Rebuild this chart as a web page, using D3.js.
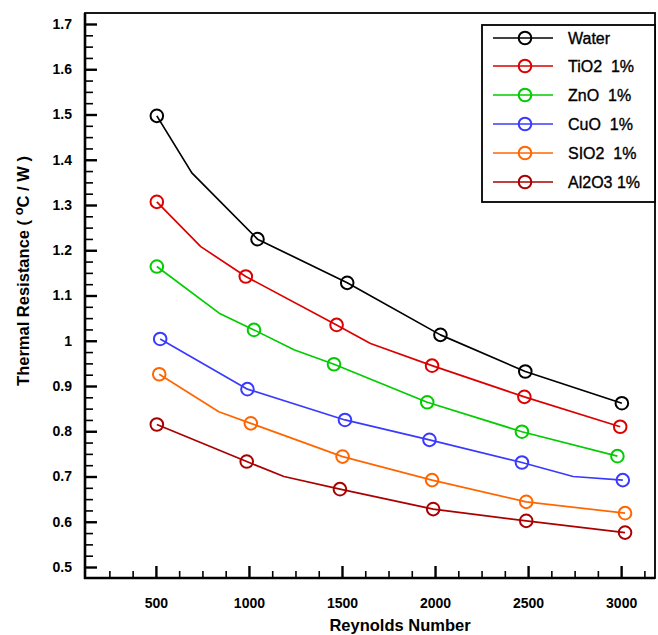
<!DOCTYPE html>
<html><head><meta charset="utf-8">
<script src="https://cdn.jsdelivr.net/npm/d3@7/dist/d3.min.js"></script>
<style>body{margin:0;background:#fff}svg{display:block}</style>
</head><body>
<svg id="c" width="658" height="635"></svg>
<script>
// ---- data ----
const seriesNames = ["Water", "TiO2  1%", "ZnO  1%", "CuO  1%", "SIO2  1%", "Al2O3 1%"];
const seriesColors = ["#000000", "#dd0000", "#00cc00", "#3a3aff", "#ff6600", "#aa0000"];

const waterRe = [505, 1046, 1528, 2029, 2485, 3004];
const waterR  = [1.497, 1.2245, 1.128, 1.013, 0.932, 0.862];
const waterBendRe = [693];
const waterBendR  = [1.371];

const tio2Re = [505, 983, 1471, 1984, 2480, 2995];
const tio2R  = [1.307, 1.142, 1.035, 0.945, 0.876, 0.810];
const tio2BendRe = [741, 1653];
const tio2BendR  = [1.208, 0.994];

const znoRe = [505, 1027, 1457, 1958, 2467, 2980];
const znoR  = [1.164, 1.024, 0.948, 0.864, 0.799, 0.745];
const znoBendRe = [840, 1242];
const znoBendR  = [1.061, 0.980];

const cuoRe = [523, 992, 1516, 1970, 2467, 3009];
const cuoR  = [1.004, 0.893, 0.825, 0.781, 0.731, 0.692];
const cuoBendRe = [2742];
const cuoBendR  = [0.700];

const sio2Re = [518, 1010, 1503, 1984, 2490, 3021];
const sio2R  = [0.926, 0.8175, 0.744, 0.692, 0.644, 0.619];
const sio2BendRe = [838];
const sio2BendR  = [0.843];

const al2o3Re = [505, 988, 1489, 1990, 2490, 3021];
const al2o3R  = [0.815, 0.733, 0.672, 0.628, 0.602, 0.576];
const al2o3BendRe = [1188];
const al2o3BendR  = [0.700];

const xTickValues = [500, 1000, 1500, 2000, 2500, 3000];
const xTickLabels = ["500", "1000", "1500", "2000", "2500", "3000"];
const yTickValues = [0.5, 0.6, 0.7, 0.8, 0.9, 1.0, 1.1, 1.2, 1.3, 1.4, 1.5, 1.6, 1.7];
const yTickLabels = ["0.5", "0.6", "0.7", "0.8", "0.9", "1", "1.1", "1.2", "1.3", "1.4", "1.5", "1.6", "1.7"];
const xMinorStep = 125;
const yMinorStep = 0.025;

const xTitle = "Reynolds Number";

// ---- build ----
const markRe = [waterRe, tio2Re, znoRe, cuoRe, sio2Re, al2o3Re];
const markR = [waterR, tio2R, znoR, cuoR, sio2R, al2o3R];
const bendRe = [waterBendRe, tio2BendRe, znoBendRe, cuoBendRe, sio2BendRe, al2o3BendRe];
const bendR = [waterBendR, tio2BendR, znoBendR, cuoBendR, sio2BendR, al2o3BendR];

const L = 85, R = 655, T = 13, B = 578;
const x = d3.scaleLinear().domain([119, 3182]).range([L, R]);
const y = d3.scaleLinear().domain([0.4757, 1.7243]).range([B, T]);

const svg = d3.select("#c");
const font = "'Liberation Sans', Arial, sans-serif";

// minor ticks
const xMinor = d3.range(250, 3182, xMinorStep).filter(v => v % 500 !== 0);
const yMinor = d3.range(0.5, 1.7244, yMinorStep).map(v => +v.toFixed(3)).filter(v => Math.abs(v * 10 - Math.round(v * 10)) > 1e-6);

const gyMinor = svg.append("g").attr("transform", `translate(${L},0)`)
  .call(d3.axisRight(y).tickValues(yMinor).tickSize(8).tickFormat(""));
const gyMajor = svg.append("g").attr("transform", `translate(${L},0)`)
  .call(d3.axisRight(y).tickValues(yTickValues).tickSize(12).tickFormat(""));
const gxMinor = svg.append("g").attr("transform", `translate(0,${B})`)
  .call(d3.axisTop(x).tickValues(xMinor).tickSize(7).tickFormat(""));
const gxMajor = svg.append("g").attr("transform", `translate(0,${B})`)
  .call(d3.axisTop(x).tickValues(xTickValues).tickSize(12).tickFormat(""));
[gyMinor, gyMajor, gxMinor, gxMajor].forEach(g => g.select(".domain").remove());
gyMinor.selectAll("line").attr("stroke", "#000").attr("stroke-width", 1.6);
gxMinor.selectAll("line").attr("stroke", "#000").attr("stroke-width", 1.6);
gyMajor.selectAll("line").attr("stroke", "#000").attr("stroke-width", 2.4);
gxMajor.selectAll("line").attr("stroke", "#000").attr("stroke-width", 2.4);

// tick labels
const gyl = svg.append("g").attr("transform", `translate(${L},0)`)
  .call(d3.axisLeft(y).tickValues(yTickValues).tickSize(0).tickPadding(13)
    .tickFormat((d, i) => yTickLabels[i]));
gyl.select(".domain").remove();
gyl.selectAll("text").attr("font-family", font).attr("font-size", 14).attr("font-weight", "bold").attr("fill", "#000");

const gxl = svg.append("g").attr("transform", `translate(0,${B})`)
  .call(d3.axisBottom(x).tickValues(xTickValues).tickSize(0).tickPadding(20)
    .tickFormat((d, i) => xTickLabels[i]));
gxl.select(".domain").remove();
gxl.selectAll("text").attr("font-family", font).attr("font-size", 14).attr("font-weight", "bold").attr("fill", "#000");

// frame
svg.append("rect").attr("x", L).attr("y", T).attr("width", R - L).attr("height", B - T)
  .attr("fill", "none").attr("stroke", "#000").attr("stroke-width", 1.8);
svg.append("line").attr("x1", L).attr("x2", L).attr("y1", T).attr("y2", B + 1).attr("stroke", "#000").attr("stroke-width", 2.6);
svg.append("line").attr("x1", L - 1).attr("x2", R).attr("y1", B).attr("y2", B).attr("stroke", "#000").attr("stroke-width", 2.6);

// series
const line = d3.line().x(d => x(d[0])).y(d => y(d[1]));
seriesNames.forEach((name, i) => {
  const pts = markRe[i].map((r, j) => [r, markR[i][j]])
    .concat(bendRe[i].map((r, j) => [r, bendR[i][j]]))
    .sort((a, b) => a[0] - b[0]);
  svg.append("path").attr("d", line(pts)).attr("fill", "none")
    .attr("stroke", seriesColors[i]).attr("stroke-width", 1.7).attr("stroke-linejoin", "round");
  svg.append("g").selectAll("circle").data(markRe[i].map((r, j) => [r, markR[i][j]])).join("circle")
    .attr("cx", d => x(d[0])).attr("cy", d => y(d[1])).attr("r", 6.3)
    .attr("fill", "none").attr("stroke", seriesColors[i]).attr("stroke-width", 2);
});

// legend
const lg = svg.append("g");
lg.append("rect").attr("x", 482).attr("y", 25).attr("width", R - 482).attr("height", 177)
  .attr("fill", "#fff").attr("stroke", "#000").attr("stroke-width", 1.8);
const rowY = [38, 66, 95, 124, 153, 182];
seriesNames.forEach((name, i) => {
  lg.append("line").attr("x1", 493).attr("x2", 553).attr("y1", rowY[i]).attr("y2", rowY[i])
    .attr("stroke", seriesColors[i]).attr("stroke-width", 1.7);
  lg.append("circle").attr("cx", 525).attr("cy", rowY[i]).attr("r", 6.3)
    .attr("fill", "none").attr("stroke", seriesColors[i]).attr("stroke-width", 2);
  lg.append("text").attr("x", 568).attr("y", rowY[i] + 6).text(name)
    .attr("font-family", font).attr("font-size", 16).attr("fill", "#000")
    .attr("stroke", "#000").attr("stroke-width", 0.35)
    .attr("xml:space", "preserve").style("white-space", "pre");
});

// axis titles
svg.append("text").attr("x", 400).attr("y", 631).attr("text-anchor", "middle")
  .attr("font-family", font).attr("font-size", 16.5).attr("font-weight", "bold").text(xTitle);
const yt = svg.append("text").attr("transform", "translate(29,271) rotate(-90)").attr("text-anchor", "middle")
  .attr("font-family", font).attr("font-size", 16.5).attr("font-weight", "bold");
yt.append("tspan").text("Thermal Resistance ( ");
yt.append("tspan").attr("dy", -6).attr("font-size", 13).text("o");
yt.append("tspan").attr("dy", 6).text("C / W )");
</script>
</body></html>
